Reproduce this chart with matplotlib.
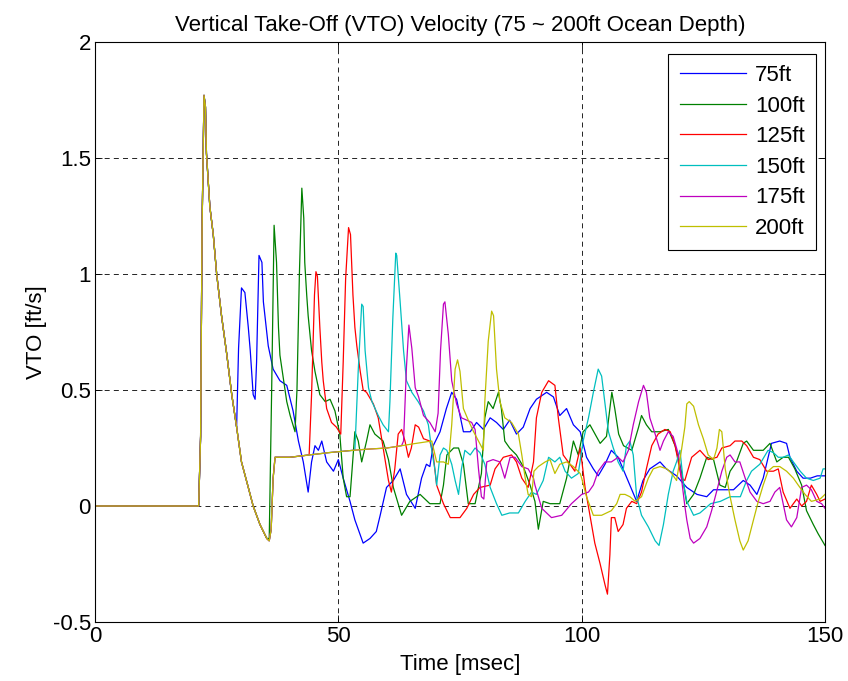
import matplotlib
matplotlib.use("Agg")
import matplotlib.pyplot as plt
from matplotlib.ticker import FormatStrFormatter

# shared response (all depths identical until the first bubble pulse)
common = [(0, 0), (21.3, 0), (21.7, 0.3), (22.0, 1.2), (22.4, 1.77), (22.7, 1.72), (22.9, 1.52),
          (23.6, 1.29), (24.3, 1.17), (25.0, 1.0), (26.0, 0.82), (27.1, 0.65), (28.1, 0.48),
          (29.1, 0.34), (30.1, 0.19), (31.5, 0.08), (32.5, 0.0), (33.9, -0.08), (35.3, -0.14)]
# plateau shared by 125..200ft after the minimum
plateau = [(35.8, -0.15), (36.2, -0.1), (36.6, 0.12), (37.0, 0.21), (40.0, 0.21), (44.0, 0.22),
           (48.0, 0.23), (53.0, 0.24), (56.0, 0.245), (60.0, 0.25), (63.0, 0.26), (66.0, 0.27), (69.2, 0.28)]

tail_75 = [(29.5, 0.68), (30.1, 0.94), (30.8, 0.92), (31.5, 0.77), (31.9, 0.67), (32.5, 0.48), (32.9, 0.46),
           (33.2, 0.62), (33.7, 1.08), (34.3, 1.05), (34.6, 0.88), (35.6, 0.69), (36.6, 0.59), (38.0, 0.54),
           (39.4, 0.52), (40.7, 0.41), (41.8, 0.28), (42.8, 0.19), (43.8, 0.06), (44.5, 0.19), (45.2, 0.26),
           (45.9, 0.24), (46.6, 0.28), (47.6, 0.19), (49.0, 0.15), (50.0, 0.20), (51.0, 0.12), (52.4, 0.02),
           (53.4, -0.06), (55.1, -0.16), (56.5, -0.14), (57.8, -0.11), (58.6, -0.04), (59.9, 0.08), (61.3, 0.11),
           (62.7, 0.16), (64.0, 0.05), (65.8, -0.01), (67.1, 0.12), (68.1, 0.18), (68.8, 0.17), (69.5, 0.26),
           (70.9, 0.32), (72.2, 0.42), (73.3, 0.49), (74.3, 0.46), (75.7, 0.32), (77.1, 0.32), (78.4, 0.36),
           (79.8, 0.33), (81.2, 0.38), (82.5, 0.36), (83.9, 0.33), (85.2, 0.37), (86.6, 0.31), (88.0, 0.34),
           (89.4, 0.42), (90.7, 0.46), (92.8, 0.49), (94.2, 0.47), (95.5, 0.39), (96.9, 0.42), (98.3, 0.35),
           (99.7, 0.32), (101.0, 0.21), (102.4, 0.16), (103.4, 0.13), (104.8, 0.18), (106.1, 0.24), (107.5, 0.21),
           (108.5, 0.16), (109.9, 0.09), (111.3, 0.02), (112.6, 0.11), (114.0, 0.16), (116.1, 0.19), (117.4, 0.16),
           (119.5, 0.13), (121.6, 0.08), (123.7, 0.05), (125.7, 0.04), (127.1, 0.07), (129.2, 0.07), (131.2, 0.07),
           (133.2, 0.11), (134.6, 0.09), (136.0, 0.05), (137.3, 0.12), (139.0, 0.27), (140.7, 0.28), (142.1, 0.27),
           (142.8, 0.21), (144.2, 0.15), (145.5, 0.12), (147.0, 0.12), (148.4, 0.13), (150.0, 0.13)]

tail_100 = [(35.8, -0.14), (36.3, 0.5), (36.8, 1.21), (37.3, 1.05), (37.7, 0.77), (38.0, 0.65), (38.7, 0.55),
            (39.4, 0.45), (40.1, 0.39), (41.1, 0.32), (41.5, 0.5), (42.0, 1.0), (42.5, 1.37), (42.9, 1.24),
            (43.1, 1.05), (43.5, 0.91), (43.8, 0.82), (44.5, 0.67), (45.2, 0.58), (46.2, 0.48), (47.3, 0.45),
            (48.3, 0.46), (49.3, 0.41), (50.3, 0.31), (51.0, 0.12), (51.7, 0.04), (52.4, 0.04), (52.8, 0.15),
            (53.4, 0.32), (54.1, 0.28), (54.8, 0.19), (55.8, 0.28), (56.5, 0.35), (57.5, 0.31), (59.2, 0.28),
            (60.3, 0.2), (61.3, 0.08), (63.0, -0.04), (64.7, 0.02), (66.8, 0.05), (68.8, 0.01), (70.9, 0.01),
            (71.6, 0.09), (72.3, 0.22), (73.7, 0.25), (74.7, 0.25), (75.7, 0.18), (76.7, 0.01), (78.1, 0.01),
            (79.4, 0.14), (80.1, 0.38), (80.8, 0.45), (81.8, 0.42), (82.9, 0.49), (83.5, 0.42), (84.2, 0.28),
            (85.2, 0.25), (86.6, 0.22), (88.0, 0.17), (89.4, 0.09), (90.4, 0.02), (91.1, -0.10), (92.1, 0.02),
            (93.5, 0.01), (95.5, 0.01), (96.9, 0.12), (98.3, 0.28), (99.3, 0.22), (100.3, 0.32), (101.7, 0.35),
            (103.8, 0.27), (105.1, 0.30), (106.2, 0.49), (106.8, 0.42), (107.6, 0.31), (108.6, 0.26), (110.3, 0.24),
            (111.7, 0.34), (112.3, 0.39), (113.3, 0.35), (114.4, 0.32), (116.1, 0.32), (117.8, 0.33), (119.2, 0.26),
            (120.5, 0.15), (121.6, 0.01), (123.0, 0.05), (124.3, 0.12), (125.7, 0.21), (127.1, 0.2), (128.4, 0.09),
            (129.5, 0.08), (130.5, 0.15), (131.8, 0.19), (133.2, 0.27), (133.9, 0.28), (135.3, 0.24), (137.3, 0.24),
            (138.7, 0.27), (140.1, 0.19), (141.4, 0.21), (142.5, 0.21), (143.8, 0.16), (145.2, 0.09), (146.2, -0.02),
            (147.6, -0.08), (148.6, -0.12), (150.0, -0.17)]

tail_125 = [(44.5, 0.48), (45.1, 0.91), (45.4, 1.01), (45.7, 0.99), (46.2, 0.77), (46.6, 0.62), (46.9, 0.54),
            (47.6, 0.42), (48.6, 0.36), (49.6, 0.34), (50.5, 0.31), (51.0, 0.62), (51.5, 0.98), (52.1, 1.2),
            (52.5, 1.17), (53.0, 0.91), (53.4, 0.77), (53.8, 0.69), (54.5, 0.58), (55.1, 0.50), (55.8, 0.49),
            (57.2, 0.44), (58.2, 0.38), (59.2, 0.25), (60.3, 0.11), (60.9, 0.06), (61.6, 0.16), (62.3, 0.31),
            (63.0, 0.33), (63.7, 0.28), (64.4, 0.21), (65.0, 0.25), (65.8, 0.35), (66.5, 0.34), (67.5, 0.29),
            (68.8, 0.28), (69.5, 0.22), (70.2, 0.09), (71.6, 0.01), (73.0, -0.05), (75.0, -0.05), (76.4, -0.01),
            (77.8, 0.05), (79.1, 0.08), (81.2, 0.09), (82.2, 0.16), (82.9, 0.18), (83.9, 0.21), (85.6, 0.22),
            (86.6, 0.19), (87.7, 0.12), (89.0, 0.08), (90.1, 0.19), (90.7, 0.38), (91.8, 0.49), (93.2, 0.54),
            (94.5, 0.52), (95.2, 0.38), (96.2, 0.22), (97.6, 0.18), (98.6, 0.15), (99.7, 0.25), (100.7, 0.08),
            (101.7, -0.04), (102.7, -0.16), (103.8, -0.25), (104.8, -0.34), (105.3, -0.38), (105.8, -0.21),
            (106.1, -0.05), (106.8, -0.05), (107.5, -0.11), (108.5, -0.08), (109.2, -0.01), (110.3, 0.02),
            (111.3, 0.01), (112.3, 0.06), (113.3, 0.16), (114.4, 0.26), (115.7, 0.31), (117.1, 0.33), (118.2, 0.32),
            (119.2, 0.26), (120.5, 0.12), (121.2, 0.11), (122.6, 0.21), (124.3, 0.24), (126.0, 0.2), (127.8, 0.21),
            (128.8, 0.25), (130.5, 0.26), (131.5, 0.28), (132.9, 0.28), (133.9, 0.26), (135.3, 0.21), (136.6, 0.2),
            (138.0, 0.15), (139.4, 0.15), (140.4, 0.16), (141.4, 0.06), (142.8, -0.01), (144.2, 0.03), (145.2, 0.0),
            (146.2, 0.02), (147.2, 0.09), (148.3, 0.05), (149.0, 0.02), (150.0, 0.03)]

tail_150 = [(53.4, 0.24), (54.1, 0.59), (54.8, 0.87), (55.1, 0.86), (55.5, 0.67), (56.2, 0.51), (56.9, 0.45),
            (58.2, 0.39), (59.2, 0.35), (60.3, 0.32), (60.6, 0.45), (61.2, 0.81), (61.8, 1.09), (62.0, 1.08),
            (62.7, 0.88), (63.4, 0.67), (64.0, 0.54), (65.1, 0.49), (66.4, 0.45), (67.5, 0.41), (68.5, 0.35),
            (69.2, 0.24), (69.9, 0.15), (70.2, 0.09), (70.9, 0.22), (71.6, 0.25), (72.3, 0.24), (73.3, 0.18),
            (74.0, 0.11), (74.7, 0.05), (75.3, 0.16), (76.0, 0.24), (77.1, 0.22), (78.1, 0.25), (79.1, 0.23),
            (80.1, 0.18), (81.2, 0.08), (82.5, 0.01), (83.6, -0.04), (85.2, -0.03), (87.0, -0.03), (88.4, 0.02),
            (89.7, 0.06), (90.7, 0.05), (92.1, 0.11), (93.2, 0.21), (94.5, 0.19), (95.5, 0.21), (96.6, 0.15),
            (97.9, 0.12), (99.3, 0.14), (100.3, 0.28), (101.4, 0.38), (102.4, 0.49), (103.4, 0.59), (104.1, 0.56),
            (104.8, 0.44), (105.5, 0.32), (106.5, 0.25), (107.5, 0.19), (108.5, 0.15), (109.2, 0.26), (109.9, 0.28),
            (110.6, 0.22), (111.3, 0.04), (112.3, -0.04), (113.7, -0.09), (115.1, -0.15), (115.9, -0.17),
            (116.8, -0.08), (117.8, 0.05), (118.8, 0.15), (119.5, 0.19), (120.2, 0.24), (120.9, 0.1), (121.6, 0.02),
            (123.0, -0.04), (124.3, -0.03), (126.5, 0.01), (128.5, 0.02), (130.5, 0.04), (132.6, 0.04), (133.9, 0.11),
            (134.9, 0.15), (136.6, 0.18), (138.3, 0.24), (139.4, 0.23), (140.4, 0.21), (141.4, 0.21), (142.5, 0.22),
            (143.5, 0.19), (144.9, 0.15), (146.2, 0.12), (147.6, 0.11), (149.0, 0.12), (149.6, 0.16), (150.0, 0.16)]

tail_175 = [(63.4, 0.28), (64.0, 0.6), (64.5, 0.78), (65.1, 0.68), (65.8, 0.51), (66.5, 0.47), (67.5, 0.39),
            (68.8, 0.36), (69.9, 0.32), (70.5, 0.4), (71.0, 0.67), (71.6, 0.87), (71.9, 0.88), (72.6, 0.74),
            (73.3, 0.54), (74.3, 0.44), (75.3, 0.38), (76.4, 0.37), (77.4, 0.36), (78.1, 0.33), (78.8, 0.16),
            (79.4, 0.04), (79.9, 0.03), (80.5, 0.19), (81.8, 0.2), (83.2, 0.19), (84.2, 0.12), (85.3, 0.21),
            (86.3, 0.21), (87.7, 0.17), (89.0, 0.16), (90.1, 0.12), (90.4, 0.09), (91.8, -0.01), (93.8, -0.05),
            (95.9, -0.04), (97.9, 0.01), (100.0, 0.05), (101.4, 0.06), (102.4, 0.09), (103.4, 0.15), (104.8, 0.19),
            (106.1, 0.19), (107.5, 0.21), (108.5, 0.19), (109.6, 0.24), (110.6, 0.35), (111.7, 0.45), (112.7, 0.52),
            (113.3, 0.49), (114.0, 0.38), (115.1, 0.31), (116.1, 0.24), (116.8, 0.28), (117.8, 0.32), (118.8, 0.30),
            (119.9, 0.22), (120.5, 0.12), (121.2, 0.0), (121.6, -0.06), (122.3, -0.14), (123.0, -0.16),
            (124.3, -0.14), (125.7, -0.09), (126.7, -0.02), (127.7, 0.06), (128.8, 0.15), (129.8, 0.21),
            (130.5, 0.22), (131.5, 0.19), (132.5, 0.19), (133.6, 0.12), (134.6, 0.06), (136.0, 0.02), (137.3, 0.01),
            (138.7, 0.02), (139.7, 0.06), (140.7, 0.08), (141.4, 0.01), (142.1, -0.06), (143.1, -0.09),
            (144.2, -0.05), (145.2, 0.08), (146.2, 0.09), (147.2, 0.07), (148.3, 0.02), (149.3, 0.01), (150.0, -0.01)]

tail_200 = [(70.2, 0.19), (71.6, 0.19), (72.6, 0.18), (73.3, 0.35), (74.0, 0.59), (74.5, 0.63), (75.0, 0.58),
            (75.7, 0.42), (76.7, 0.37), (77.8, 0.32), (78.8, 0.28), (79.8, 0.24), (80.1, 0.45), (80.8, 0.71),
            (81.5, 0.84), (81.9, 0.82), (82.5, 0.59), (83.2, 0.45), (84.2, 0.38), (85.6, 0.36), (87.0, 0.31),
            (87.7, 0.22), (88.4, 0.12), (89.0, 0.05), (89.7, 0.04), (90.2, 0.15), (91.1, 0.17), (92.5, 0.19),
            (93.5, 0.2), (94.5, 0.14), (95.5, 0.18), (96.9, 0.19), (98.3, 0.17), (99.7, 0.14), (100.0, 0.12),
            (101.0, 0.04), (102.4, -0.04), (104.1, -0.04), (106.1, -0.02), (107.2, 0.01), (107.9, 0.05),
            (108.9, 0.05), (109.9, 0.04), (111.0, 0.02), (112.3, 0.04), (113.7, 0.12), (114.7, 0.16), (116.1, 0.17),
            (117.5, 0.16), (118.5, 0.14), (119.5, 0.11), (120.5, 0.24), (121.2, 0.34), (121.6, 0.44), (122.1, 0.45),
            (123.0, 0.43), (124.0, 0.35), (125.0, 0.29), (126.0, 0.22), (127.1, 0.2), (127.8, 0.25), (128.3, 0.33),
            (128.8, 0.32), (129.5, 0.16), (130.5, 0.04), (131.5, -0.06), (132.5, -0.15), (133.2, -0.19),
            (134.2, -0.15), (135.3, -0.06), (136.3, 0.02), (137.3, 0.09), (138.3, 0.15), (139.4, 0.17),
            (140.7, 0.17), (142.1, 0.15), (143.5, 0.12), (144.5, 0.09), (145.9, 0.05), (147.2, 0.02), (149.0, 0.03),
            (150.0, 0.05)]

labels = ["75ft", "100ft", "125ft", "150ft", "175ft", "200ft"]
colors = [(0, 0, 1), (0, 0.5, 0), (1, 0, 0), (0, 0.75, 0.75), (0.75, 0, 0.75), (0.75, 0.75, 0)]


def build(prefix_until, plateau_until, tail):
    pts = [p for p in common if p[0] <= prefix_until]
    if plateau_until is not None:
        pts += [p for p in plateau if p[0] <= plateau_until]
    return pts + tail


series = [build(29.1, None, tail_75), build(35.3, None, tail_100), build(35.3, 44.0, tail_125),
          build(35.3, 53.0, tail_150), build(35.3, 63.0, tail_175), build(35.3, 69.2, tail_200)]

FS = 16
plt.rcParams["font.family"] = ["Liberation Sans", "DejaVu Sans"]
fig = plt.figure(figsize=(8.48, 6.81), dpi=100)
ax = fig.add_axes([95 / 848, 1 - 622 / 681, 730 / 848, 580 / 681])

for pts, lab, c in zip(series, labels, colors):
    ax.plot([p[0] for p in pts], [p[1] for p in pts], color=c, lw=0.9, label=lab)

ax.set_xlim(0, 150); ax.set_ylim(-0.5, 2)
ax.set_xticks([0, 50, 100, 150]); ax.set_yticks([-0.5, 0, 0.5, 1, 1.5, 2])
ax.yaxis.set_major_formatter(FormatStrFormatter("%g"))
ax.tick_params(direction="in", top=True, right=True, labelsize=FS, length=5, width=0.6, pad=3)
ax.grid(True, color="black", linestyle=(0, (6, 5)), lw=0.6)
for s in ax.spines.values(): s.set_linewidth(0.8)
ax.set_xlabel("Time [msec]", fontsize=FS, labelpad=5)
ax.set_ylabel("VTO [ft/s]", fontsize=FS, labelpad=4)
ax.set_title("Vertical Take-Off (VTO) Velocity (75 ~ 200ft Ocean Depth)", fontsize=FS, pad=8)
leg = ax.legend(loc="upper right", bbox_to_anchor=(816 / 848, 1 - 54 / 681), bbox_transform=fig.transFigure,
                fontsize=FS, handlelength=3.0, handletextpad=0.4, labelspacing=0.43, borderpad=0.5,
                borderaxespad=0, fancybox=False, edgecolor="black", framealpha=1)
leg.get_frame().set_linewidth(0.8)
fig.savefig("out.png", dpi=100)
